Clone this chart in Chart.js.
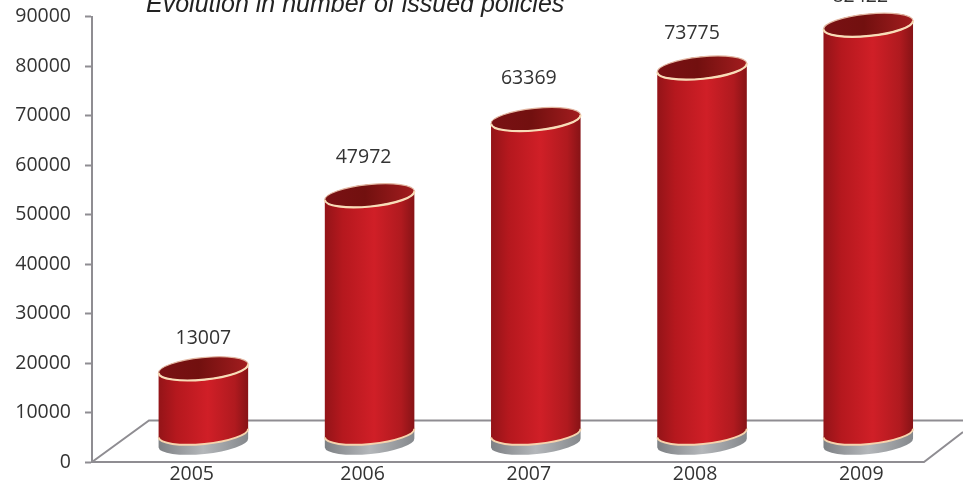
<!DOCTYPE html>
<html>
<head>
<meta charset="utf-8">
<title>Evolution in number of issued policies</title>
<script src="https://cdn.jsdelivr.net/npm/chart.js@4"></script>
<style>
  html, body { margin: 0; padding: 0; background: #fff; overflow: hidden; }
  #wrap { position: relative; width: 963px; height: 485px; }
</style>
</head>
<body>
<div id="wrap"><canvas id="policies-chart"></canvas></div>
<script>
const chartTitle = 'Evolution in number of issued policies';
const years = [2005, 2006, 2007, 2008, 2009];
const issuedPolicies = [13007, 47972, 63369, 73775, 82422];
const yTicks = [0, 10000, 20000, 30000, 40000, 50000, 60000, 70000, 80000, 90000];

const labelFont = '"Open Sans", sans-serif';
const axisGrey = '#8f8d92';

// cylinder look, the chart stands on a fake floor above the real zero line
const floorLift = 29;
const radiusX = 45;
const radiusY = 11;
const tilt = -5.7 * Math.PI / 180;
// the value labels do not sit exactly over the bars in the picture
const valueShiftX = [0, -6, -7, -10, -8];
const valueGapY = [30, 38, 41, 34, 29];
const yearNudge = [-0.028, 0, 0, 0, 0];

const cylinders = {
  id: 'cylinders',
  beforeDatasetsDraw(chart) {
    const { ctx, chartArea, scales } = chart;
    const zero = scales.y.getPixelForValue(0);
    const backY = scales.y.getPixelForValue(8400);
    // floor outline
    ctx.save();
    ctx.strokeStyle = axisGrey;
    ctx.lineWidth = 2;
    ctx.beginPath();
    ctx.moveTo(chartArea.left, zero);
    ctx.lineTo(924, zero);
    ctx.lineTo(chartArea.right, zero - 30);
    ctx.moveTo(chartArea.left, zero);
    ctx.lineTo(chartArea.left + 57, backY);
    ctx.lineTo(chartArea.right, backY);
    ctx.stroke();
    ctx.restore();
  },
  afterDatasetsDraw(chart) {
    const { ctx, scales } = chart;
    const zero = scales.y.getPixelForValue(0);
    const baseY = zero - floorLift;
    chart.getDatasetMeta(0).data.forEach((bar, i) => {
      const cx = bar.x;
      const topY = bar.y - floorLift;

      ctx.save();
      // grey foot
      const foot = ctx.createLinearGradient(cx - radiusX, 0, cx + radiusX, 0);
      foot.addColorStop(0, '#7d8084');
      foot.addColorStop(0.5, '#b4b7ba');
      foot.addColorStop(1, '#85888c');
      ctx.fillStyle = foot;
      ctx.beginPath();
      ctx.ellipse(cx, baseY + 10, radiusX, radiusY, tilt, Math.PI, 0, true);
      ctx.ellipse(cx, baseY, radiusX, radiusY, tilt, 0, Math.PI, true);
      ctx.closePath();
      ctx.fill();

      // red body
      const body = ctx.createLinearGradient(cx - radiusX, 0, cx + radiusX, 0);
      body.addColorStop(0, '#931418');
      body.addColorStop(0.2, '#b5181e');
      body.addColorStop(0.55, '#d01f27');
      body.addColorStop(0.85, '#b01a1f');
      body.addColorStop(1, '#861316');
      ctx.fillStyle = body;
      ctx.beginPath();
      ctx.ellipse(cx, baseY, radiusX, radiusY, tilt, Math.PI, 0, true);
      ctx.ellipse(cx, topY, radiusX, radiusY, tilt, 0, Math.PI, true);
      ctx.closePath();
      ctx.fill();

      // cream rim at the bottom
      ctx.strokeStyle = '#f6d3ad';
      ctx.lineWidth = 2;
      ctx.beginPath();
      ctx.ellipse(cx, baseY, radiusX, radiusY, tilt, Math.PI, 0, true);
      ctx.stroke();

      // dark top face
      const face = ctx.createLinearGradient(cx - radiusX, 0, cx + radiusX, 0);
      face.addColorStop(0, '#7a1114');
      face.addColorStop(0.45, '#72100f');
      face.addColorStop(1, '#a31d1f');
      ctx.fillStyle = face;
      ctx.beginPath();
      ctx.ellipse(cx, topY, radiusX, radiusY, tilt, 0, Math.PI * 2);
      ctx.fill();
      // back of the rim is fainter than the front
      ctx.strokeStyle = '#e2b7a2';
      ctx.lineWidth = 1.2;
      ctx.stroke();
      ctx.strokeStyle = '#f8dcb8';
      ctx.lineWidth = 2.2;
      ctx.beginPath();
      ctx.ellipse(cx, topY, radiusX, radiusY, tilt, Math.PI, 0, true);
      ctx.stroke();

      // value above the bar
      ctx.fillStyle = '#333';
      ctx.font = '19.5px ' + labelFont;
      ctx.textAlign = 'center';
      ctx.textBaseline = 'middle';
      ctx.fillText(issuedPolicies[i], cx + valueShiftX[i], topY - valueGapY[i]);
      ctx.restore();
    });
  },
  afterDraw(chart) {
    const { ctx } = chart;
    ctx.save();
    ctx.fillStyle = '#222';
    ctx.font = 'italic 25px "Liberation Sans", sans-serif';
    ctx.textAlign = 'left';
    ctx.textBaseline = 'alphabetic';
    ctx.fillText(chartTitle, 146, 12);
    ctx.restore();
  }
};

new Chart(document.getElementById('policies-chart'), {
  type: 'bar',
  data: {
    datasets: [{
      label: 'Issued policies',
      data: years.map((year, i) => ({ x: year, y: issuedPolicies[i] })),
      backgroundColor: 'rgba(0,0,0,0)',
      barThickness: 90
    }]
  },
  options: {
    responsive: true,
    maintainAspectRatio: false,
    animation: false,
    layout: { padding: { top: 16.5, right: 0, bottom: 0, left: 0 } },
    plugins: { legend: { display: false }, tooltip: { enabled: false } },
    scales: {
      x: {
        type: 'linear',
        offset: false,
        min: 2004.33,
        max: 2009.57,
        afterBuildTicks(axis) { axis.ticks = years.map((year, i) => ({ value: year + yearNudge[i] })); },
        afterFit(axis) { axis.height = 23; },
        grid: { display: false, drawTicks: false },
        border: { display: false },
        ticks: {
          autoSkip: false,
          maxRotation: 0,
          padding: 1,
          labelOffset: -7,
          color: '#333',
          font: { family: labelFont, size: 19.5 },
          callback: (value, i) => String(years[i])
        }
      },
      y: {
        min: 0,
        max: 90000,
        afterBuildTicks(axis) { axis.ticks = yTicks.map(v => ({ value: v })); },
        afterFit(axis) {
          axis.width = 92;
          // the first and last tick label may stick out of the scale
          axis.paddingTop = 0;
          axis.paddingBottom = 0;
        },
        grid: { drawOnChartArea: false, drawTicks: true, tickLength: 7, tickColor: axisGrey, tickWidth: 2 },
        border: { display: true, color: axisGrey, width: 2 },
        ticks: {
          padding: 14,
          color: '#333',
          font: { family: labelFont, size: 19.5 },
          callback: value => String(value)
        }
      }
    }
  },
  plugins: [cylinders]
});
</script>
</body>
</html>
